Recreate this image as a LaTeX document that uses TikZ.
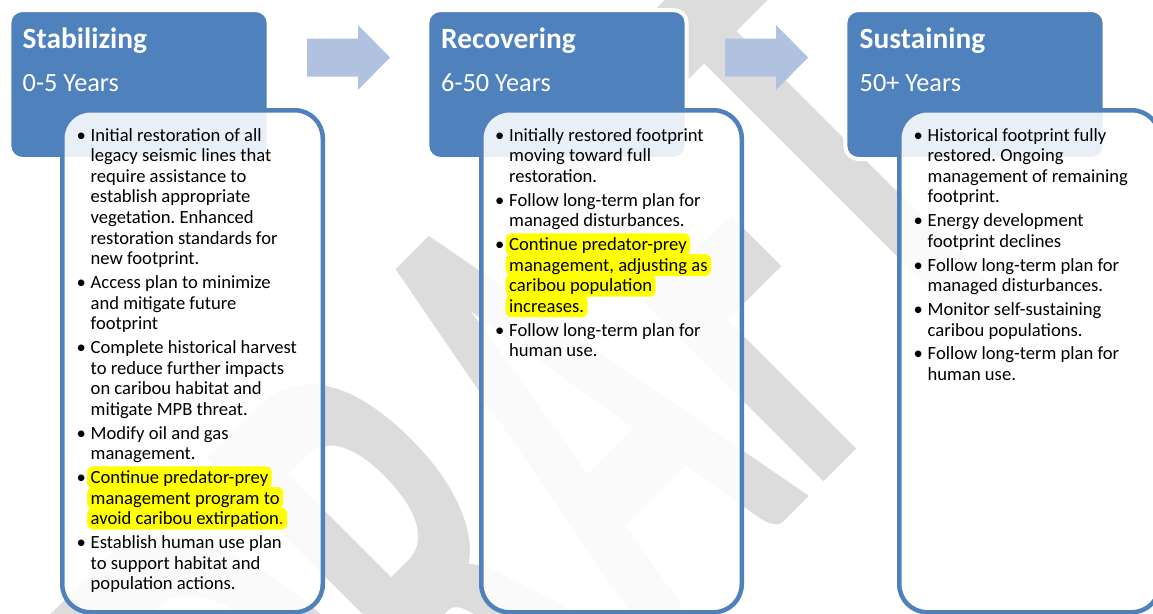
\documentclass[tikz,border=0pt]{standalone}
\usepackage{fontspec}
\setmainfont{Carlito}
\usepackage{graphicx}
\frenchspacing
\definecolor{hblue}{RGB}{79,129,189}
\definecolor{arrcol}{RGB}{176,194,224}
\definecolor{wm}{RGB}{220,220,220}
\definecolor{hl}{RGB}{255,255,0}
\begin{document}
\begin{tikzpicture}[x=1pt,y=-1pt,
  hdr/.style={fill=hblue, draw=white, line width=4pt, rounded corners=13pt, anchor=north west, inner sep=0pt, minimum width=259.4pt, minimum height=149pt},
  tbox/.style={fill=white, fill opacity=0.88, draw=hblue, draw opacity=1, line width=4.5pt, rounded corners=28pt, anchor=north west, inner sep=0pt, minimum width=260.5pt, minimum height=502pt},
  ttl/.style={anchor=base west, inner sep=0pt, text=white, font=\bfseries\fontsize{29.4}{30}\selectfont},
  sub/.style={anchor=base west, inner sep=0pt, text=white, font=\fontsize{26.3}{27}\selectfont},
  ln/.style={anchor=base west, inner xsep=3.5pt, inner ysep=0pt, text height=17pt, text depth=5pt, font=\fontsize{18.6}{20.6}\selectfont},
  hlt/.style={ln, fill=hl, rounded corners=6pt},
  blt/.style={anchor=base east, inner sep=0pt, font=\fontsize{18.6}{20.6}\selectfont},
  arr/.style={fill=arrcol}
]
\useasboundingbox (0,0) rectangle (1153,613);
% watermark
\node[rotate=45, anchor=base west, inner sep=0pt, text=wm, font=\bfseries\fontsize{360}{360}\selectfont] (wmk) at (352,954) {\scalebox{1}[1.94]{DRAFT}};
% headers
\node[hdr] (h1) at (7.3,8) {};
\node[hdr] (h2) at (425.3,8) {};
\node[hdr] (h3) at (843.3,8) {};
% arrows
\fill[arr] (307,38.5) -- (358,38.5) -- (358,25) -- (390,57.5) -- (358,90) -- (358,76.5) -- (307,76.5) -- cycle;
\fill[arr] (725,38.5) -- (776,38.5) -- (776,25) -- (808,57.5) -- (776,90) -- (776,76.5) -- (725,76.5) -- cycle;
% titles
\node[ttl] (t1) at (22.5,48) {Stabilizing};
\node[sub] (s1) at (22.5,91) {0-5 Years};
\node[ttl] (t2) at (441,48) {Recovering};
\node[sub] (s2) at (441,91) {6-50 Years};
\node[ttl] (t3) at (859.5,48) {Sustaining};
\node[sub] (s3) at (859.5,91) {50+ Years};
% text boxes
\node[tbox] (b1) at (60,108) {};
\node[tbox] (b2) at (479,108) {};
\node[tbox] (b3) at (897,108) {};
% box 1 text
\node[ln] (a01) at (87,141.0) {Initial restoration of all};
\node[ln] (a02) at (87,161.6) {legacy seismic lines that};
\node[ln] (a03) at (87,182.2) {require assistance to};
\node[ln] (a04) at (87,202.8) {establish appropriate};
\node[ln] (a05) at (87,223.4) {vegetation. Enhanced};
\node[ln] (a06) at (87,244.0) {restoration standards for};
\node[ln] (a07) at (87,264.6) {new footprint.};
\node[ln] (a08) at (87,288.4) {Access plan to minimize};
\node[ln] (a09) at (87,309.0) {and mitigate future};
\node[ln] (a10) at (87,329.6) {footprint};
\node[ln] (a11) at (87,353.4) {Complete historical harvest};
\node[ln] (a12) at (87,374.0) {to reduce further impacts};
\node[ln] (a13) at (87,394.6) {on caribou habitat and};
\node[ln] (a14) at (87,415.2) {mitigate MPB threat.};
\node[ln] (a15) at (87,439.0) {Modify oil and gas};
\node[ln] (a16) at (87,459.6) {management.};
\node[hlt] (a17) at (87,483.4) {Continue predator-prey};
\node[hlt] (a18) at (87,504.0) {management program to};
\node[hlt] (a19) at (87,524.6) {avoid caribou extirpation{\color{red}.}};
\node[ln] (a20) at (87,548.4) {Establish human use plan};
\node[ln] (a21) at (87,569.0) {to support habitat and};
\node[ln] (a22) at (87,589.6) {population actions.};
\foreach \y/\n in {141.0/1,288.4/2,353.4/3,439.0/4,483.4/5,548.4/6}
  \node[blt] (ab\n) at (86,\y) {•};
% box 2 text
\node[ln] (c01) at (505.5,141.0) {Initially restored footprint};
\node[ln] (c02) at (505.5,161.6) {moving toward full};
\node[ln] (c03) at (505.5,182.2) {restoration.};
\node[ln] (c04) at (505.5,206.0) {Follow long-term plan for};
\node[ln] (c05) at (505.5,226.6) {managed disturbances.};
\node[hlt] (c06) at (505.5,250.4) {Continue predator-prey};
\node[hlt] (c07) at (505.5,271.0) {management, adjusting as};
\node[hlt] (c08) at (505.5,291.6) {caribou population};
\node[hlt] (c09) at (505.5,312.2) {increases.};
\node[ln] (c10) at (505.5,336.0) {Follow long-term plan for};
\node[ln] (c11) at (505.5,356.6) {human use.};
\foreach \y/\n in {141.0/1,206.0/2,250.4/3,336.0/4}
  \node[blt] (cb\n) at (504.5,\y) {•};
% box 3 text
\node[ln] (e01) at (924,141.0) {Historical footprint fully};
\node[ln] (e02) at (924,161.6) {restored. Ongoing};
\node[ln] (e03) at (924,182.2) {management of remaining};
\node[ln] (e04) at (924,202.8) {footprint.};
\node[ln] (e05) at (924,226.6) {Energy development};
\node[ln] (e06) at (924,247.2) {footprint declines};
\node[ln] (e07) at (924,271.0) {Follow long-term plan for};
\node[ln] (e08) at (924,291.6) {managed disturbances.};
\node[ln] (e09) at (924,315.4) {Monitor self-sustaining};
\node[ln] (e10) at (924,336.0) {caribou populations.};
\node[ln] (e11) at (924,359.8) {Follow long-term plan for};
\node[ln] (e12) at (924,380.4) {human use.};
\foreach \y/\n in {141.0/1,226.6/2,271.0/3,315.4/4,359.8/5}
  \node[blt] (eb\n) at (923,\y) {•};
\end{tikzpicture}
\end{document}
